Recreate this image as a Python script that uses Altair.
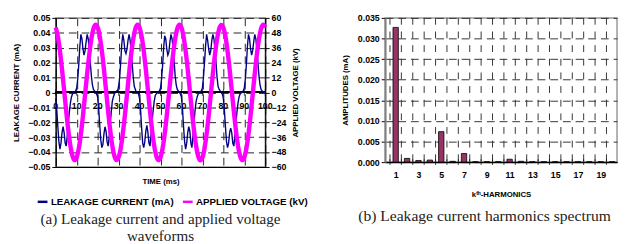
import altair as alt
import pandas as pd

FONT = "Liberation Sans"
SERIF = "Liberation Serif"

# ---------------- Panel (a): waveforms ----------------
series_names = ["LEAKAGE CURRENT (mA)", "APPLIED VOLTAGE (kV)"]
series_colors = ["#000080", "#FF00FF"]

current_time_ms = [i / 2 for i in range(201)]
current_mA = [
    -0.004, -0.012, -0.023, -0.033, -0.038, -0.034, -0.027, -0.023, -0.027, -0.034,
    -0.036, -0.029, -0.020, -0.013, -0.007, -0.003, -0.001, 0.000, 0.000, 0.001,
    0.003, 0.009, 0.019, 0.031, 0.039, 0.036, 0.029, 0.025, 0.028, 0.034,
    0.039, 0.036, 0.029, 0.020, 0.011, 0.005, 0.002, 0.001, 0.000, -0.001,
    -0.003, -0.011, -0.022, -0.032, -0.037, -0.035, -0.028, -0.023, -0.026, -0.033,
    -0.036, -0.030, -0.021, -0.013, -0.006, -0.003, -0.001, 0.000, 0.001, 0.001,
    0.004, 0.010, 0.020, 0.032, 0.039, 0.035, 0.028, 0.026, 0.029, 0.035,
    0.039, 0.035, 0.028, 0.019, 0.010, 0.004, 0.002, 0.000, 0.000, -0.001,
    -0.004, -0.012, -0.024, -0.034, -0.037, -0.033, -0.026, -0.022, -0.027, -0.034,
    -0.036, -0.028, -0.019, -0.012, -0.006, -0.002, -0.001, 0.000, 0.000, 0.001,
    0.003, 0.009, 0.018, 0.030, 0.038, 0.036, 0.029, 0.025, 0.027, 0.034,
    0.039, 0.036, 0.030, 0.021, 0.011, 0.005, 0.002, 0.001, 0.000, -0.001,
    -0.003, -0.011, -0.023, -0.033, -0.038, -0.034, -0.027, -0.023, -0.026, -0.034,
    -0.037, -0.029, -0.020, -0.012, -0.006, -0.003, -0.001, 0.000, 0.000, 0.001,
    0.003, 0.010, 0.020, 0.031, 0.039, 0.035, 0.029, 0.025, 0.028, 0.035,
    0.039, 0.036, 0.029, 0.020, 0.010, 0.004, 0.002, 0.001, 0.000, -0.001,
    -0.004, -0.012, -0.023, -0.033, -0.037, -0.034, -0.027, -0.024, -0.027, -0.034,
    -0.036, -0.029, -0.020, -0.013, -0.007, -0.003, -0.001, 0.000, 0.000, 0.001,
    0.003, 0.009, 0.019, 0.031, 0.039, 0.036, 0.029, 0.025, 0.028, 0.034,
    0.039, 0.036, 0.029, 0.020, 0.011, 0.005, 0.002, 0.001, 0.000, 0.000,
    0.000,
]

voltage_time_ms = list(range(101))
voltage_kV = [
    52.3, 45.1, 33.4, 18.5, 1.7, -15.2, -30.6, -43.1, -51.3, -54.5,
    -52.3, -45.1, -33.4, -18.5, -1.7, 15.2, 30.6, 43.1, 51.3, 54.5,
    52.4, 45.2, 33.5, 18.6, 1.8, -15.1, -30.5, -43.0, -51.2, -54.4,
    -52.2, -45.0, -33.3, -18.4, -1.6, 15.3, 30.7, 43.2, 51.4, 54.6,
    52.3, 45.1, 33.4, 18.5, 1.7, -15.2, -30.6, -43.1, -51.3, -54.5,
    -52.3, -45.1, -33.4, -18.5, -1.7, 15.2, 30.6, 43.1, 51.3, 54.5,
    52.2, 45.0, 33.3, 18.4, 1.6, -15.3, -30.7, -43.2, -51.4, -54.6,
    -52.4, -45.2, -33.5, -18.6, -1.8, 15.1, 30.5, 43.0, 51.2, 54.4,
    52.3, 45.1, 33.4, 18.5, 1.7, -15.2, -30.6, -43.1, -51.3, -54.5,
    -52.3, -45.1, -33.4, -18.5, -1.7, 15.2, 30.6, 43.1, 51.3, 54.5,
    52.3,
]

time_ticks = [0, 10, 20, 30, 40, 50, 60, 70, 80, 90, 100]
current_ticks = [-0.05, -0.04, -0.03, -0.02, -0.01, 0, 0.01, 0.02, 0.03, 0.04, 0.05]
voltage_ticks = [-60, -48, -36, -24, -12, 0, 12, 24, 36, 48, 60]

# ---------------- Panel (b): harmonics ----------------
harmonic_order = list(range(1, 21))
harmonic_amp_mA = [0.0327, 0.0009, 0.0004, 0.0005, 0.0074, 0.0002, 0.0021, 0.0001,
                   0.0001, 0.0001, 0.0007, 0.0002, 0.0001, 0.0001, 0.0001, 0.0001,
                   0.0001, 0.0001, 0.0001, 0.0001]
harmonic_labels = [1, 3, 5, 7, 9, 11, 13, 15, 17, 19]
harmonic_bounds = [0.5 + i for i in range(20)]
amp_ticks = [0.000, 0.005, 0.010, 0.015, 0.020, 0.025, 0.030, 0.035]

# ---------------- build panel (a) ----------------
cur_df = pd.DataFrame({"t": current_time_ms, "v": current_mA, "series": series_names[0]})
volt_df = pd.DataFrame({"t": voltage_time_ms, "v": voltage_kV, "series": series_names[1]})
tick_df = pd.DataFrame({"t": time_ticks, "zero": [0] * len(time_ticks),
                        "lab": [str(v) for v in time_ticks]})

x_scale = alt.Scale(domain=[0, 100], nice=False, zero=False)
cur_scale = alt.Scale(domain=[-0.05, 0.05], nice=False, zero=False)
volt_scale = alt.Scale(domain=[-60, 60], nice=False, zero=False)

x_enc = alt.X("t:Q", scale=x_scale,
              axis=alt.Axis(title="TIME (ms)", labels=False, ticks=False, values=time_ticks,
                            grid=True, gridDash=[8, 5], gridColor="#222", gridWidth=1,
                            domainColor="#000", domainWidth=1.2, titlePadding=11))

color_enc = alt.Color("series:N",
                      scale=alt.Scale(domain=series_names, range=series_colors),
                      legend=alt.Legend(orient="none", legendX=-20, legendY=182,
                                        direction="horizontal", title=None,
                                        symbolType="stroke", symbolSize=100,
                                        symbolStrokeWidth=2.5, labelOffset=2,
                                        columnPadding=3,
                                        labelFont=FONT, labelFontSize=10,
                                        labelFontWeight="bold", labelColor="#000"))

labels_layer = alt.Chart(tick_df).mark_text(
    dy=14, baseline="middle", align="center", font=FONT, fontSize=9,
    fontWeight="bold", color="#000"
).encode(
    x=x_enc,
    y=alt.Y("zero:Q", scale=cur_scale,
            axis=alt.Axis(title="LEAKAGE CURRENT (mA)", values=current_ticks,
                          format=".2~f", grid=True, gridDash=[8, 5], gridColor="#222",
                          tickSize=4, tickColor="#000", domainColor="#000",
                          domainWidth=1.2, labelPadding=2, titlePadding=7)),
    text="lab:N",
)

zero_rule = alt.Chart(tick_df).mark_rule(color="#000", strokeWidth=1.2).encode(
    y=alt.Y("zero:Q", scale=cur_scale, axis=None)
)

zero_ticks = alt.Chart(tick_df).mark_tick(orient="vertical", size=7, thickness=1,
                                         color="#000").encode(
    x=x_enc,
    y=alt.Y("zero:Q", scale=cur_scale, axis=None),
)

cur_line = alt.Chart(cur_df).mark_line(strokeWidth=1.4).encode(
    x=x_enc,
    y=alt.Y("v:Q", scale=cur_scale, axis=None),
    color=color_enc,
)

volt_line = alt.Chart(volt_df).mark_line(strokeWidth=4.5, interpolate="monotone").encode(
    x=x_enc,
    y=alt.Y("v:Q", scale=volt_scale,
            axis=alt.Axis(orient="right", title="APPLIED VOLTAGE (kV)", values=voltage_ticks,
                          format="d", grid=False, tickSize=4, tickColor="#000",
                          domainColor="#000", domainWidth=1.2, labelPadding=2,
                          titlePadding=6, titleAngle=270, titleBaseline="top")),
    color=color_enc,
)

panel_a = alt.layer(labels_layer, zero_rule, zero_ticks, cur_line, volt_line).resolve_scale(
    y="independent"
).properties(
    width=215, height=153,
    title=alt.TitleParams(text=["(a) Leakage current and applied voltage", "waveforms"],
                          orient="bottom", anchor="middle", font=SERIF, fontSize=15.5,
                          fontWeight="normal", lineHeight=17, offset=28, color="#222"),
)

# ---------------- build panel (b) ----------------
bar_df = pd.DataFrame({"k": harmonic_order, "amp": harmonic_amp_mA})
bound_df = pd.DataFrame({"k": harmonic_bounds, "amp": [0] * len(harmonic_bounds)})

k_scale = alt.Scale(domain=[0.5, 20.0], nice=False, zero=False)
amp_scale = alt.Scale(domain=[0, 0.035], nice=False)

k_enc = alt.X("k:Q", scale=k_scale,
              axis=alt.Axis(title="kᵗʰ-HARMONICS", values=harmonic_labels, format="d",
                            ticks=False, grid=False, labelPadding=9, titlePadding=11,
                            domainColor="#000", domainWidth=1.5))
amp_enc = alt.Y("amp:Q", scale=amp_scale,
                axis=alt.Axis(title="AMPLITUDES (mA)", values=amp_ticks, format=".3f",
                              grid=True, gridDash=[8, 5], gridColor="#333",
                              tickSize=4, tickColor="#000", domainColor="#808080",
                              domainWidth=2, labelPadding=2, titlePadding=8))

vgrid = alt.Chart(bound_df).mark_rule(color="#333", strokeWidth=1, strokeDash=[7, 7]).encode(
    x=k_enc
)
bars = alt.Chart(bar_df).mark_bar(size=5.5, color="#993366", stroke="#000",
                                  strokeWidth=0.8, clip=True).encode(
    x=k_enc,
    y=amp_enc,
)
base_ticks = alt.Chart(bound_df).mark_tick(orient="vertical", size=6, thickness=1,
                                          color="#000").encode(
    x=k_enc,
    y=amp_enc,
)

panel_b = alt.layer(vgrid, bars, base_ticks).properties(
    width=238, height=148,
    title=alt.TitleParams(text="(b) Leakage current harmonics spectrum",
                          orient="bottom", anchor="middle", font=SERIF, fontSize=16,
                          fontWeight="normal", offset=10, dx=-17, color="#222"),
)

chart = alt.hconcat(panel_a, panel_b, spacing=40).properties(
    padding={"left": 4, "top": 2, "right": 0, "bottom": 0}
).configure_view(
    stroke="#999", strokeWidth=1.5
).configure_axis(
    labelFont=FONT, labelFontSize=9, labelFontWeight="bold", labelColor="#000",
    titleFont=FONT, titleFontSize=8, titleFontWeight="bold", titleColor="#000",
)

chart.save("out.html", embed_options={"renderer": "svg", "actions": False})
